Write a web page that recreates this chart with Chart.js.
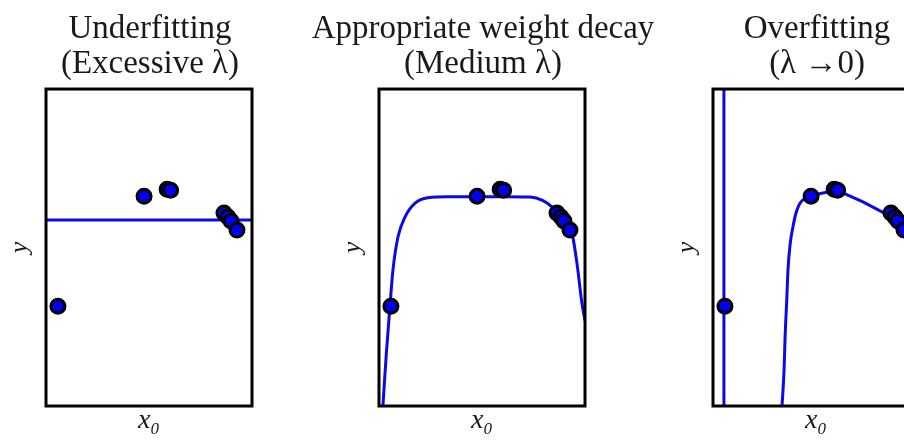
<!DOCTYPE html>
<html>
<head>
<meta charset="utf-8">
<script src="https://cdn.jsdelivr.net/npm/chart.js@4.4.1/dist/chart.umd.min.js"></script>
<style>
body{margin:0;background:#fff;overflow:hidden;}
#lienzo{position:relative;width:904px;height:440px;overflow:hidden;background:#fff;}
#lienzo canvas{position:absolute;top:0;}
</style>
</head>
<body>
<div id="lienzo">
    <canvas id="panel_1" width="400" height="440" style="left:-50px"></canvas>
    <canvas id="panel_2" width="400" height="440" style="left:283px"></canvas>
    <canvas id="panel_3" width="400" height="440" style="left:617px"></canvas>
</div>
<script>
//--Puntos de entrenamiento (iguales en los tres paneles)
var puntosX = [0.058, 0.476, 0.588, 0.605, 0.864, 0.883, 0.898, 0.927];
var puntosY = [0.315, 0.662, 0.684, 0.681, 0.609, 0.596, 0.584, 0.555];

//--Panel 1: recta (lambda excesivo)
var rectaX = [0, 1];
var rectaY = [0.587, 0.587];

//--Panel 2: curva con lambda medio
var curvaMediaX = [0.019, 0.035, 0.053, 0.068, 0.092, 0.126, 0.175, 0.238, 0.335, 0.476, 0.600, 0.733, 0.796, 0.845, 0.890, 0.937, 0.961, 0.985, 1.000];
var curvaMediaY = [0.000, 0.160, 0.315, 0.430, 0.533, 0.596, 0.640, 0.657, 0.660, 0.660, 0.660, 0.659, 0.648, 0.625, 0.590, 0.545, 0.450, 0.325, 0.270];

//--Panel 3: sobreajuste (lambda -> 0)
var verticalX = [0.053, 0.053];
var verticalY = [0, 1];
var subidaX = [0.335, 0.345, 0.350, 0.358, 0.364, 0.374, 0.388, 0.403, 0.422, 0.455, 0.480, 0.534, 0.600];
var subidaY = [0.000, 0.114, 0.218, 0.334, 0.429, 0.508, 0.565, 0.609, 0.640, 0.658, 0.664, 0.672, 0.681];
var bajadaX = [0.600, 0.728, 0.869, 0.917, 0.956];
var bajadaY = [0.681, 0.644, 0.596, 0.549, 0.508];

var titulos = [
    ['Underfitting', '(Excessive λ)'],
    ['Appropriate weight decay', '(Medium λ)'],
    ['Overfitting', '(λ →0)']
];

var fuenteSerif = '"Liberation Serif", "DejaVu Serif", serif';
var azulLinea = 'rgb(10,10,230)';
var azulPunto = 'rgb(0,0,245)';

var pluginMarco = {
    id: 'marco',
    afterDatasetsDraw: function(chart){
        var ctx = chart.ctx;
        var a = chart.chartArea;
        ctx.save();
        ctx.strokeStyle = '#000';
        ctx.lineWidth = 3;
        ctx.strokeRect(a.left, a.top, a.right - a.left, a.bottom - a.top);
        ctx.restore();
    }
};

function pares(xs, ys){
    var arr = new Array();
    xs.forEach(function(x, i){
        arr.push({x: x, y: ys[i]});
    });
    return arr;
}

function datosPuntos(){
    return {
        data: pares(puntosX, puntosY),
        showLine: false,
        pointRadius: 7,
        pointBackgroundColor: azulPunto,
        pointBorderColor: '#000',
        pointBorderWidth: 3
    };
}

function datosLinea(xs, ys, recta){
    return {
        data: pares(xs, ys),
        showLine: true,
        pointRadius: 0,
        borderColor: azulLinea,
        borderWidth: 3,
        cubicInterpolationMode: recta ? 'default' : 'monotone',
        tension: 0,
        fill: false
    };
}

function escalaVacia(){
    return {
        type: 'linear', min: 0, max: 1,
        ticks: {display: false},
        grid: {display: false},
        border: {display: false}
    };
}

function opcionesPanel(titulo){
    var x = escalaVacia();
    x.title = {
        display: true, text: 'x₀', color: '#1a1a1a',
        font: {family: fuenteSerif, size: 28, style: 'italic', lineHeight: 1.2},
        padding: {top: 0, bottom: 2.5}
    };
    x.afterFit = function(escala){ escala.height = 34; };

    var y = escalaVacia();
    y.title = {
        display: true, text: 'y', color: '#1a1a1a',
        font: {family: fuenteSerif, size: 26, style: 'italic', lineHeight: 1.2},
        padding: {top: 55, bottom: 0}
    };
    y.afterFit = function(escala){ escala.width = 96; };

    //--eje derecho vacio, solo para dejar el titulo centrado
    var y2 = escalaVacia();
    y2.position = 'right';
    y2.afterFit = function(escala){ escala.width = 98; };

    return {
        responsive: false,
        animation: false,
        layout: {autoPadding: false, padding: 0},
        plugins: {
            legend: {display: false},
            tooltip: {enabled: false},
            title: {
                display: true,
                text: titulo,
                color: '#1a1a1a',
                font: {family: fuenteSerif, size: 33, weight: 'normal', lineHeight: 1.04},
                padding: {top: 12.5, bottom: 7.9}
            }
        },
        scales: {x: x, y: y, y2: y2}
    };
}

function graficaPanel(idCanvas, titulo, lineas){
    var canvas = document.getElementById(idCanvas);
    var datasets = [datosPuntos()];
    lineas.forEach(function(l){
        datasets.push(datosLinea(l[0], l[1], l[2]));
    });
    return new Chart(canvas, {
        type: 'scatter',
        data: {datasets: datasets},
        options: opcionesPanel(titulo),
        plugins: [pluginMarco]
    });
}

graficaPanel('panel_1', titulos[0], [[rectaX, rectaY, true]]);
graficaPanel('panel_2', titulos[1], [[curvaMediaX, curvaMediaY, false]]);
graficaPanel('panel_3', titulos[2], [[verticalX, verticalY, true], [subidaX, subidaY, false], [bajadaX, bajadaY, true]]);
</script>
</body>
</html>
